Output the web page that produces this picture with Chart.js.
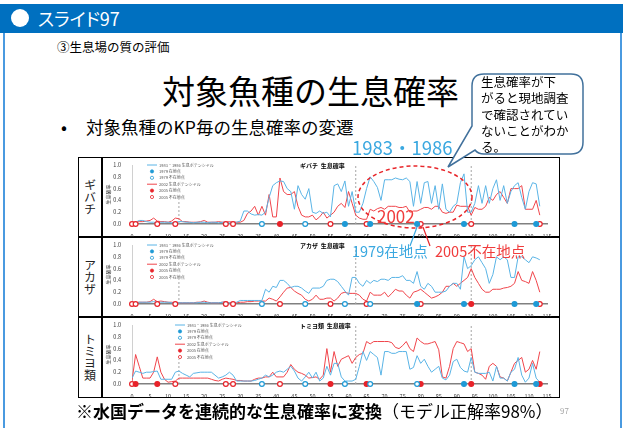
<!DOCTYPE html>
<html lang="ja">
<head>
<meta charset="utf-8">
<script src="https://cdn.jsdelivr.net/npm/chart.js@4.4.1/dist/chart.umd.min.js"></script>
<style>
  html, body { margin: 0; padding: 0; background: #fff; }
  body { width: 627px; height: 428px; position: relative; overflow: hidden; font-family: "Noto Sans CJK JP", sans-serif; }
  .abs { position: absolute; white-space: nowrap; }
  #bar { left: 0; top: 4px; width: 623px; height: 29px; background: #0070c0; }
  #dot { left: 11px; top: 9px; width: 18px; height: 18px; border-radius: 50%; background: #fff; }
  #slideNo { left: 38px; top: 4px; line-height: 29px; font-size: 18px; color: #fff; font-feature-settings: "palt"; }
  .frame { top: 33px; width: 2px; height: 395px; background: #4a9ae0; }
  #sub { left: 57px; top: 38px; font-size: 12.5px; line-height: 18px; }
  #title { left: 162px; top: 68px; font-size: 33px; line-height: 44px; }
  #bullet { left: 61px; top: 115px; font-size: 17.5px; line-height: 24px; }
  #bullet span { display: inline-block; width: 25px; }
  #yrs { left: 352px; top: 134px; font-size: 18.5px; line-height: 26px; color: #3aa8e0; }
  #note { left: 481px; top: 74px; font-size: 12.5px; line-height: 16.3px; }
  .tbl { border: 1.5px solid #000; box-sizing: border-box; }
  .rowlab { left: 78px; width: 24px; height: 80px; display: flex; align-items: center; justify-content: center; }
  .rowlab span { writing-mode: vertical-rl; font-size: 12px; color: #222; }
  canvas { position: absolute; }
  .ann { font-size: 14.5px; line-height: 20px; }
  #bottom { left: 76px; top: 399px; font-size: 17px; line-height: 24px; }
  #page { left: 560px; top: 405px; font-size: 8px; color: #a6a6a6; }
  svg { position: absolute; left: 0; top: 0; }
</style>
</head>
<body>
<div id="bar" class="abs"></div>
<div id="dot" class="abs"></div>
<div id="slideNo" class="abs">スライド97</div>
<div class="abs frame" style="left:3px"></div>
<div class="abs frame" style="left:620px"></div>
<div id="sub" class="abs">③生息場の質の評価</div>
<div id="title" class="abs">対象魚種の生息確率</div>
<div id="bullet" class="abs"><span>•</span>対象魚種のKP毎の生息確率の変遷</div>

<!-- table frame -->
<div class="abs tbl" style="left:78px;top:157px;width:482px;height:241px"></div>
<div class="abs" style="left:78px;top:236px;width:482px;height:1.5px;background:#000"></div>
<div class="abs" style="left:78px;top:316px;width:482px;height:1.5px;background:#000"></div>
<div class="abs" style="left:101px;top:157px;width:1.5px;height:241px;background:#000"></div>
<div class="abs rowlab" style="top:157px"><span>ギバチ</span></div>
<div class="abs rowlab" style="top:237px"><span>アカザ</span></div>
<div class="abs rowlab" style="top:317px"><span>トミヨ類</span></div>

<canvas id="c1" width="456" height="79" style="left:103px;top:158px"></canvas>
<canvas id="c2" width="456" height="79" style="left:103px;top:238px"></canvas>
<canvas id="c3" width="456" height="79" style="left:103px;top:318px"></canvas>

<svg width="627" height="428">
  <path d="M484 74 H571 Q583 74 583 86 V142 Q583 154 571 154 H484 Q478 154 475 150 L448 167 L472 126 V86 Q472 74 484 74 Z"
        fill="#fff" stroke="#41719c" stroke-width="1.5"/>
  <ellipse cx="415" cy="197" rx="57" ry="31" fill="none" stroke="#e8262a" stroke-width="1.5" stroke-dasharray="4 3"/>
  <line x1="410" y1="246" x2="417" y2="227" stroke="#3aa8e0" stroke-width="1.2"/>
  <line x1="430" y1="246" x2="423" y2="227" stroke="#e8262a" stroke-width="1.2"/>
</svg>

<div id="note" class="abs">生息確率が下<br>がると現地調査<br>で確認されてい<br>ないことがわか<br>る。</div>
<div id="yrs" class="abs">1983・1986</div>
<div class="abs ann" style="left:377px;top:204px;font-size:17px;line-height:24px;color:#f03c3c">2002</div>
<div class="abs ann" style="left:352px;top:241px;color:#3aa8e0">1979在地点</div>
<div class="abs ann" style="left:435px;top:241px;color:#f03c3c">2005不在地点</div>

<div id="bottom" class="abs"><b>※水国データを連続的な生息確率に変換</b>（モデル正解率98%）</div>
<div id="page" class="abs">97</div>

<script>
// KP (distance markers) along the river
const kp = Array.from({ length: 114 }, (_, i) => i);

// survey sites
const sites1979 = [36, 48, 59, 66, 79, 92, 106, 112];
const sites2005 = [0, 1, 7, 12, 26, 28, 41, 55, 65, 80, 94, 113];

// ギバチ
const gibachi1986 = [
  0.02, 0.03, 0.06, 0.06, 0.04, 0.03, 0.03, 0.02, 0.03, 0.03,
  0.03, 0.02, 0.03, 0.04, 0.04, 0.03, 0.03, 0.02, 0.03, 0.03,
  0.03, 0.02, 0.03, 0.03, 0.02, 0.03, 0.03, 0.02, 0.03, 0.03,
  0.05, 0.22, 0.22, 0.17, 0.15, 0.16, 0.15, 0.20, 0.45, 0.65,
  0.70, 0.73, 0.72, 0.60, 0.55, 0.25, 0.65, 0.50, 0.42, 0.60,
  0.20, 0.18, 0.22, 0.18, 0.20, 0.12, 0.65, 0.68, 0.55, 0.73,
  0.30, 0.55, 0.20, 0.20, 0.35, 0.60, 0.80, 0.72, 0.62, 0.40,
  0.75, 0.75, 0.75, 0.78, 0.76, 0.75, 0.78, 0.72, 0.30, 0.72,
  0.35, 0.70, 0.72, 0.35, 0.65, 0.25, 0.68, 0.25, 0.20, 0.30,
  0.35, 0.70, 0.85, 0.20, 0.20, 0.35, 0.65, 0.35, 0.65, 0.35,
  0.60, 0.75, 0.40, 0.65, 0.35, 0.55, 0.65, 0.70, 0.45, 0.25,
  0.55, 0.70, 0.68, 0.30
];
const gibachi2002 = [
  0.03, 0.03, 0.04, 0.04, 0.05, 0.06, 0.10, 0.05, 0.04, 0.04,
  0.03, 0.05, 0.10, 0.09, 0.04, 0.04, 0.03, 0.03, 0.03, 0.04,
  0.06, 0.03, 0.03, 0.03, 0.04, 0.03, 0.03, 0.04, 0.03, 0.03,
  0.03, 0.06, 0.18, 0.22, 0.30, 0.15, 0.30, 0.15, 0.50, 0.12,
  0.12, 0.78, 0.55, 0.50, 0.50, 0.55, 0.30, 0.15, 0.12, 0.12,
  0.15, 0.07, 0.12, 0.20, 0.10, 0.15, 0.20, 0.30, 0.35, 0.28,
  0.55, 0.35, 0.15, 0.10, 0.08, 0.08, 0.25, 0.22, 0.26, 0.28,
  0.25, 0.30, 0.30, 0.30, 0.28, 0.28, 0.30, 0.20, 0.22, 0.22,
  0.25, 0.28, 0.28, 0.25, 0.30, 0.30, 0.20, 0.18, 0.20, 0.20,
  0.32, 0.30, 0.30, 0.30, 0.15, 0.28, 0.25, 0.25, 0.30, 0.45,
  0.40, 0.50, 0.55, 0.45, 0.35, 0.60, 0.60, 0.60, 0.65, 0.25,
  0.25, 0.25, 0.40, 0.15
];
const gibachiFound1979 = [59, 66, 79, 92, 106, 112];
const gibachiFound2005 = [41];

// アカザ
const akaza1986 = [
  0.02, 0.02, 0.03, 0.03, 0.03, 0.03, 0.04, 0.03, 0.03, 0.03,
  0.03, 0.02, 0.02, 0.02, 0.02, 0.02, 0.02, 0.02, 0.02, 0.03,
  0.03, 0.02, 0.02, 0.02, 0.02, 0.03, 0.03, 0.02, 0.02, 0.03,
  0.06, 0.06, 0.06, 0.06, 0.06, 0.06, 0.06, 0.25, 0.20, 0.30,
  0.28, 0.40, 0.40, 0.35, 0.28, 0.30, 0.30, 0.27, 0.22, 0.18,
  0.27, 0.27, 0.27, 0.30, 0.40, 0.42, 0.42, 0.38, 0.30, 0.22,
  0.15, 0.45, 0.45, 0.35, 0.30, 0.40, 0.35, 0.40, 0.38, 0.42,
  0.42, 0.40, 0.45, 0.45, 0.45, 0.48, 0.40, 0.40, 0.35, 0.55,
  0.30, 0.25, 0.35, 0.30, 0.20, 0.20, 0.20, 0.22, 0.30, 0.35,
  0.35, 0.25, 0.80, 0.60, 0.65, 0.75, 0.80, 0.70, 0.60, 0.35,
  0.50, 0.80, 0.75, 0.80, 0.75, 0.45, 0.45, 0.80, 0.80, 0.75,
  0.70, 0.80, 0.78, 0.75
];
const akaza2002 = [
  0.02, 0.02, 0.03, 0.03, 0.03, 0.04, 0.08, 0.04, 0.05, 0.04,
  0.03, 0.03, 0.02, 0.02, 0.02, 0.02, 0.02, 0.02, 0.03, 0.03,
  0.05, 0.03, 0.02, 0.02, 0.02, 0.03, 0.04, 0.02, 0.02, 0.02,
  0.03, 0.03, 0.04, 0.04, 0.05, 0.05, 0.05, 0.05, 0.10, 0.08,
  0.05, 0.12, 0.20, 0.27, 0.28, 0.22, 0.18, 0.15, 0.08, 0.05,
  0.08, 0.15, 0.08, 0.08, 0.10, 0.10, 0.05, 0.10, 0.18, 0.20,
  0.18, 0.18, 0.18, 0.15, 0.08, 0.05, 0.20, 0.15, 0.15, 0.15,
  0.20, 0.12, 0.18, 0.25, 0.22, 0.22, 0.15, 0.10, 0.20, 0.22,
  0.25, 0.20, 0.15, 0.10, 0.12, 0.15, 0.20, 0.30, 0.30, 0.35,
  0.30, 0.35, 0.40, 0.45, 0.60, 0.45, 0.35, 0.25, 0.20, 0.20,
  0.25, 0.25, 0.25, 0.27, 0.28, 0.30, 0.35, 0.55, 0.40, 0.38,
  0.35, 0.55, 0.40, 0.20
];
const akazaFound1979 = [79, 92, 106, 112];
const akazaFound2005 = [94];

// トミヨ類
const tomiyo1986 = [
  0.10, 0.22, 0.20, 0.18, 0.20, 0.20, 0.21, 0.22, 0.08, 0.08,
  0.08, 0.08, 0.20, 0.22, 0.18, 0.15, 0.12, 0.18, 0.19, 0.20,
  0.20, 0.20, 0.20, 0.15, 0.10, 0.12, 0.15, 0.20, 0.15, 0.05,
  0.05, 0.05, 0.05, 0.05, 0.06, 0.08, 0.10, 0.15, 0.12, 0.15,
  0.20, 0.22, 0.20, 0.25, 0.30, 0.22, 0.10, 0.05, 0.12, 0.20,
  0.10, 0.20, 0.05, 0.10, 0.30, 0.15, 0.35, 0.35, 0.12, 0.05,
  0.05, 0.05, 0.08, 0.30, 0.55, 0.40, 0.55, 0.50, 0.45, 0.15,
  0.55, 0.55, 0.52, 0.52, 0.55, 0.55, 0.55, 0.25, 0.28, 0.48,
  0.35, 0.42, 0.30, 0.20, 0.25, 0.30, 0.10, 0.07, 0.15, 0.38,
  0.42, 0.28, 0.22, 0.20, 0.45, 0.20, 0.18, 0.18, 0.18, 0.20,
  0.05, 0.30, 0.10, 0.10, 0.05, 0.20, 0.25, 0.45, 0.15, 0.03,
  0.10, 0.35, 0.10, 0.03
];
const tomiyo2002 = [
  0.05, 0.50, 0.30, 0.10, 0.10, 0.10, 0.20, 0.46, 0.20, 0.08,
  0.03, 0.04, 0.05, 0.10, 0.10, 0.10, 0.10, 0.10, 0.10, 0.10,
  0.10, 0.10, 0.08, 0.06, 0.05, 0.08, 0.10, 0.09, 0.08, 0.06,
  0.06, 0.05, 0.05, 0.05, 0.08, 0.10, 0.10, 0.12, 0.12, 0.20,
  0.12, 0.12, 0.12, 0.20, 0.33, 0.25, 0.20, 0.18, 0.15, 0.10,
  0.11, 0.12, 0.08, 0.15, 0.60, 0.20, 0.55, 0.30, 0.42, 0.45,
  0.48, 0.35, 0.45, 0.50, 0.52, 0.72, 0.68, 0.72, 0.72, 0.72,
  0.72, 0.72, 0.70, 0.62, 0.60, 0.65, 0.72, 0.60, 0.55, 0.78,
  0.72, 0.68, 0.68, 0.70, 0.72, 0.58, 0.12, 0.10, 0.30, 0.60,
  0.72, 0.70, 0.68, 0.55, 0.60, 0.20, 0.18, 0.15, 0.08, 0.30,
  0.35, 0.30, 0.12, 0.10, 0.05, 0.20, 0.35, 0.40, 0.45, 0.20,
  0.25, 0.40, 0.25, 0.55
];
const tomiyoFound1979 = [92, 106, 112];
const tomiyoFound2005 = [1, 7, 55, 65, 80, 94, 113];

// reference KP lines (dashed)
const refKP = [13, 62, 94];
const refTop = [0.42, 1.0, 1.0];

const xTicks = { min: 0, max: 115, step: 5 };
const yTicks = { min: 0, max: 1, step: 0.2 };

const BLUE = '#5ab4e6';
const RED = '#f0454b';
const BLUE_DOT = '#1e9ad6';
const RED_DOT = '#e8232a';

Chart.defaults.font.family = '"Noto Sans CJK JP", sans-serif';

// draws the small in-plot title and legend
const panelDecor = {
  id: 'panelDecor',
  afterDraw(chart, args, opts) {
    const { ctx, chartArea } = chart;
    ctx.save();
    ctx.textBaseline = 'middle';
    ctx.fillStyle = '#000';
    ctx.font = 'bold 6px "Noto Sans CJK JP"';
    ctx.fillText(opts.title, chartArea.left + 168, chartArea.top + 1);

    ctx.font = '4px "Noto Sans CJK JP"';
    let y = chartArea.top;
    const x = chartArea.left + opts.legendX;
    chart.data.datasets.filter(d => d.inLegend).forEach(d => {
      if (d.pointRadius === 0) {
        ctx.strokeStyle = d.borderColor;
        ctx.lineWidth = 1;
        ctx.beginPath();
        ctx.moveTo(x, y);
        ctx.lineTo(x + 10, y);
        ctx.stroke();
      } else {
        ctx.beginPath();
        ctx.arc(x + 5, y, 1.6, 0, Math.PI * 2);
        ctx.fillStyle = d.backgroundColor;
        ctx.fill();
        ctx.strokeStyle = d.borderColor;
        ctx.lineWidth = 0.8;
        ctx.stroke();
      }
      ctx.fillStyle = '#595959';
      ctx.fillText(d.label, x + 12, y);
      y += 6.4;
    });
    ctx.restore();
  }
};

function lineSet(label, values, color) {
  return {
    label, inLegend: true, order: 1,
    data: kp.map((k, i) => ({ x: k, y: values[i] })),
    showLine: true, borderColor: color, backgroundColor: color,
    borderWidth: 1, pointRadius: 0, tension: 0
  };
}

function siteSet(label, list, color, filled) {
  return {
    label, inLegend: true, order: 0, clip: false,
    data: list.map(k => ({ x: k, y: 0 })),
    showLine: false, pointRadius: 2.4, pointBorderWidth: 1.2,
    borderColor: color, backgroundColor: filled ? color : '#fff'
  };
}

function makePanel(id, title, blue, red, found1979, found2005, legendX) {
  const datasets = [
    lineSet('1983・1986 生息ポテンシャル', blue, BLUE),
    siteSet('1979 在地点', found1979, BLUE_DOT, true),
    siteSet('1979 不在地点', sites1979.filter(k => !found1979.includes(k)), BLUE_DOT, false),
    lineSet('2002 生息ポテンシャル', red, RED),
    siteSet('2005 在地点', found2005, RED_DOT, true),
    siteSet('2005 不在地点', sites2005.filter(k => !found2005.includes(k)), RED_DOT, false)
  ];
  refKP.forEach((k, i) => {
    datasets.push({
      label: 'ref' + k, order: 2,
      data: [{ x: k, y: 0 }, { x: k, y: refTop[i] }],
      showLine: true, borderColor: '#a6a6a6', borderWidth: 1, borderDash: [2, 2], pointRadius: 0
    });
  });

  new Chart(document.getElementById(id), {
    type: 'scatter',
    data: { datasets },
    plugins: [panelDecor],
    options: {
      responsive: false,
      animation: false,
      layout: { padding: { top: 7, right: 12, left: 0, bottom: 0 } },
      plugins: {
        legend: { display: false },
        tooltip: { enabled: false },
        panelDecor: { title, legendX }
      },
      scales: {
        x: {
          type: 'linear', min: xTicks.min, max: xTicks.max,
          grid: { display: false },
          border: { display: true, color: '#808080', width: 1.5 },
          ticks: { stepSize: xTicks.step, autoSkip: false, maxRotation: 0, padding: 2,
                   font: { size: 5.5 }, color: '#404040' },
          afterFit: s => { s.height = 13; }
        },
        y: {
          min: yTicks.min, max: yTicks.max,
          grid: { display: false },
          border: { display: true, color: '#d0d0d0', width: 1 },
          ticks: { stepSize: yTicks.step, padding: 3, font: { size: 5.5 }, color: '#404040',
                   callback: v => v.toFixed(1) },
          title: { display: true, text: '生息確率', font: { size: 5 }, color: '#404040',
                   padding: { top: 2, bottom: 0 } },
          afterFit: s => { s.width = 29; }
        }
      }
    }
  });
}

makePanel('c1', 'ギバチ  生息確率', gibachi1986, gibachi2002, gibachiFound1979, gibachiFound2005, 15);
makePanel('c2', 'アカザ  生息確率', akaza1986, akaza2002, akazaFound1979, akazaFound2005, 15);
makePanel('c3', 'トミヨ類  生息確率', tomiyo1986, tomiyo2002, tomiyoFound1979, tomiyoFound2005, 43);
</script>
</body>
</html>
